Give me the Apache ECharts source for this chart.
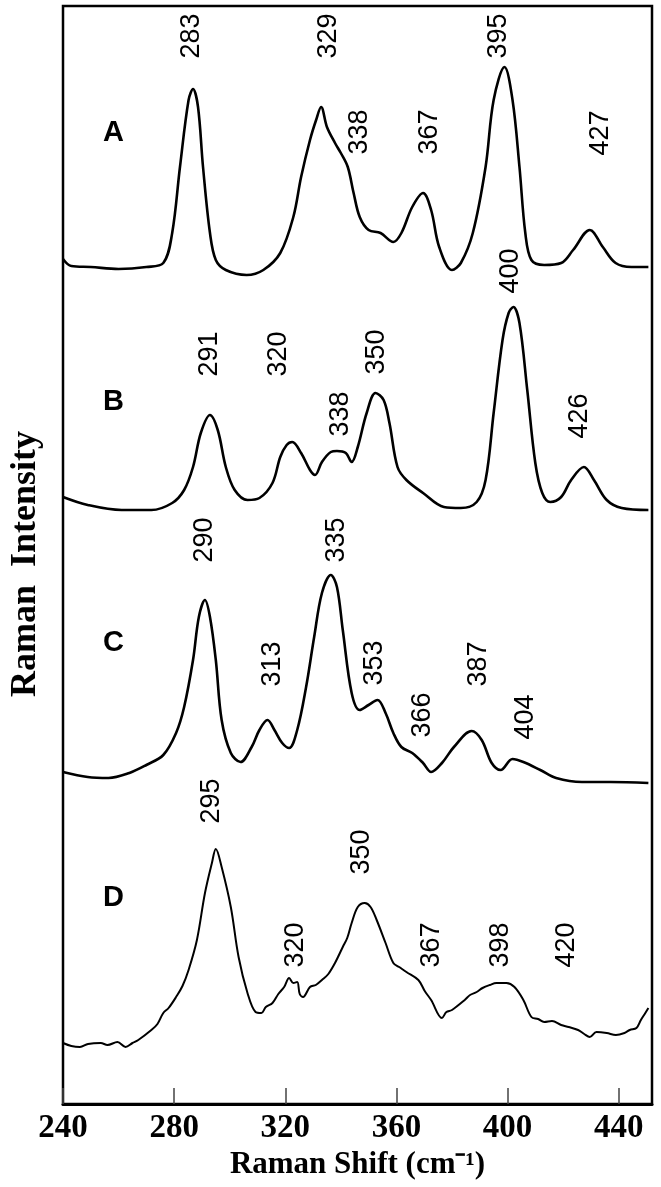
<!DOCTYPE html>
<html>
<head>
<meta charset="utf-8">
<script src="https://cdn.jsdelivr.net/npm/echarts@6/dist/echarts.min.js"></script>
<style>
    html, body {margin: 0; padding: 0; background: #fff;}
    #chart {width: 661px; height: 1187px;}
</style>
</head>
<body>
<div id="chart"></div>
<script>
// x = Raman shift (cm-1), y = stacked intensity (arbitrary, offset per spectrum)
const xTicks = [240, 280, 320, 360, 400, 440];

const spectrumA = [
    [240, 845], [243, 838], [250, 837], [260, 835], [270, 837], [276.1, 841], [279.3, 871],
    [282.1, 937], [285.2, 1004], [286.8, 1015], [288.6, 997], [290.4, 937], [292.9, 871],
    [295, 844], [298.6, 834], [306.1, 829], [312.1, 834], [318.2, 851], [322.9, 887],
    [325.7, 927], [328.9, 964], [331.1, 984], [332.9, 997], [335, 977], [337.9, 961],
    [340, 951], [342.5, 937], [344.6, 911], [346.8, 887], [350, 874], [354.3, 871],
    [358.9, 862], [361.8, 871], [365.7, 897], [369.6, 911], [372.5, 894], [375.4, 857],
    [380, 834], [383.2, 841], [387.5, 871], [392.1, 937], [395, 1004], [398.9, 1037],
    [401.8, 1004], [404.3, 937], [406.4, 871], [408.6, 844], [413.2, 839], [419.3, 841],
    [423.6, 854], [429.6, 874], [434.3, 857], [438.9, 841], [444.6, 837], [450.7, 837]
];
const spectrumB = [
    [240, 607], [248.9, 599], [261.1, 594], [271.8, 594], [279.3, 601], [283.6, 614],
    [286.8, 637], [289.6, 671], [292.9, 689], [295.7, 674], [298.6, 637], [301.8, 614],
    [306.4, 604], [310.7, 606], [315.4, 621], [318.2, 647], [320.5, 659], [322.5, 662], [325.7, 651],
    [328.9, 634], [330.7, 629], [333.2, 642], [336.4, 652], [338.6, 653], [341.8, 651],
    [343.9, 642], [346.1, 657], [349.3, 691], [352.5, 711], [355.4, 704], [357.5, 681],
    [360.4, 637], [363.6, 624], [369.6, 611], [377.1, 597], [383.2, 596], [388.9, 602],
    [392.1, 624], [395, 691], [398.2, 764], [400.4, 791], [402.1, 797], [404.3, 781],
    [407.1, 714], [410, 641], [412.5, 611], [415.4, 602], [419.3, 607], [422.9, 624],
    [427.5, 637], [431.1, 624], [435.7, 604], [441.1, 596], [450.7, 594]
];
const spectrumC = [
    [240, 332], [248.9, 327], [256.4, 326], [263.9, 331], [270, 339], [276.1, 349],
    [280.7, 371], [283.6, 397], [286.8, 444], [288.9, 487], [291.1, 504], [292.9, 487],
    [295, 444], [297.1, 384], [300.4, 351], [303.9, 342], [307.9, 357], [310.7, 374],
    [313.6, 384], [316.1, 374], [318.9, 361], [321.4, 356], [324.3, 374], [327.5, 417],
    [330.4, 467], [333.2, 511], [336.4, 529], [338.6, 517], [340.7, 474], [343.9, 411],
    [346.8, 394], [350, 399], [353.2, 404], [356.1, 391], [358.9, 371], [361.8, 357],
    [365.7, 351], [369.6, 341], [372.5, 332], [376.4, 341], [380.7, 357], [387.1, 373],
    [390.7, 364], [394.3, 341], [397.5, 334], [401.8, 345], [405.7, 342], [411.8, 334],
    [417.5, 326], [426.8, 322], [437.1, 322], [450.7, 321]
];
const spectrumD = [
    [240, 61], [243, 58], [246.1, 57], [249, 60], [253.6, 61], [256, 59], [259.6, 62],
    [262.5, 57], [265, 61], [267.1, 64], [271.8, 74], [274, 80], [276.1, 91], [278, 96],
    [280.7, 107], [283, 118], [285.2, 134], [288.2, 164], [291.1, 211], [293.6, 241],
    [295, 255], [297.1, 237], [300.4, 197], [303.2, 147], [306.4, 111], [309.3, 92],
    [311.4, 91], [313, 97], [315.4, 101], [317.5, 110], [319.6, 117], [321.4, 126],
    [322.9, 121], [324.3, 122], [325.2, 110], [326.4, 107], [328.9, 117], [331, 119],
    [333.2, 124], [335.5, 130], [337.9, 141], [340.7, 157], [342.3, 166], [343.9, 181],
    [346.1, 197], [348.6, 201], [350.7, 197], [352.9, 184], [356.1, 161], [358.9, 141],
    [361, 137], [363.6, 132], [367.9, 124], [370.2, 113], [372.5, 104], [376.4, 86],
    [378, 92], [380, 94], [384.6, 104], [386.5, 109], [388.9, 112], [391, 116], [393.6, 119],
    [396, 121], [399.6, 121], [402.5, 117], [405.7, 104], [408.6, 87], [411, 85],
    [413.2, 82], [416, 83], [419.3, 79], [422, 77], [425.4, 74], [427.6, 70], [429.6, 67],
    [432, 72], [435.7, 71], [439, 69], [442.1, 71], [444, 74], [446.4, 76], [448, 84],
    [449.6, 91], [450.7, 96]
];

// peak annotations: [text, x, y] in data units
const peaksA = [['283', 286.4, 1068], ['329', 335.7, 1068], ['338', 346.8, 972],
    ['367', 371.8, 972], ['395', 396.8, 1068], ['427', 433.6, 971]];
const peaksB = [['400', 401.1, 833], ['291', 292.9, 750], ['320', 317.5, 750],
    ['338', 340, 690], ['350', 352.9, 752], ['426', 426.1, 688]];
const peaksC = [['290', 291.1, 564], ['335', 338.6, 564], ['313', 315.4, 440],
    ['353', 352.1, 441], ['366', 369.3, 389], ['387', 389.6, 440], ['404', 406.4, 387]];
const peaksD = [['295', 293.6, 303], ['350', 347.5, 252], ['320', 323.6, 159],
    ['367', 372.5, 159], ['398', 397.5, 159], ['420', 421.4, 159]];
const panelLetters = [['A', 258.2, 971], ['B', 258.2, 702], ['C', 258.2, 461], ['D', 258.2, 206]];

const lineSeries = (name, data, width) => ({
    name: name,
    type: 'line',
    data: data,
    smooth: 0.35,
    symbol: 'none',
    lineStyle: {color: '#000', width: width},
    z: 3
});

const textSeries = (name, data, rotate, font) => ({
    name: name,
    type: 'scatter',
    symbolSize: 0,
    itemStyle: {color: '#000', opacity: 0},
    data: data.map(d => ({name: d[0], value: [d[1], d[2]]})),
    label: {
        show: true,
        position: 'inside',
        formatter: p => p.name,
        rotate: rotate,
        color: '#000',
        opacity: 1,
        textBorderWidth: 0,
        fontFamily: 'Liberation Sans',
        fontSize: font.size,
        fontWeight: font.weight,
        align: 'center',
        verticalAlign: 'middle'
    },
    silent: true,
    z: 4
});

const peakFont = {size: 27, weight: 'normal'};

const chart = echarts.init(document.getElementById('chart'), null, {renderer: 'canvas'});
chart.setOption({
    backgroundColor: '#fff',
    animation: false,
    grid: {
        left: 59, right: 9, top: 6, bottom: 83,
        show: true, borderColor: '#000', borderWidth: 2.5, backgroundColor: 'transparent'
    },
    xAxis: {
        type: 'value',
        min: 240, max: 452, interval: 40,
        name: 'Raman Shift (cm⁻¹)',
        nameLocation: 'middle',
        nameGap: 44,
        nameTextStyle: {fontFamily: 'Liberation Serif', fontSize: 31, fontWeight: 'bold', color: '#000'},
        axisLine: {show: true, lineStyle: {color: '#000', width: 3}},
        axisTick: {show: true, inside: true, length: 16, lineStyle: {color: '#444', width: 1.5}},
        axisLabel: {
            color: '#000', fontFamily: 'Liberation Serif', fontSize: 33, fontWeight: 'bold', margin: 8,
            showMaxLabel: false,
            formatter: v => xTicks.includes(v) ? String(v) : ''
        },
        splitLine: {show: false}
    },
    yAxis: {
        type: 'value',
        min: 0, max: 1098,
        name: 'Raman  Intensity',
        nameLocation: 'middle',
        nameGap: 19,
        nameRotate: 90,
        nameTextStyle: {fontFamily: 'Liberation Serif', fontSize: 36, fontWeight: 'bold', color: '#000', padding: [0, 18, 0, 0]},
        axisLine: {show: false},
        axisTick: {show: false},
        axisLabel: {show: false},
        splitLine: {show: false}
    },
    series: [
        lineSeries('A', spectrumA, 2.6),
        lineSeries('B', spectrumB, 2.6),
        lineSeries('C', spectrumC, 2.6),
        lineSeries('D', spectrumD, 2),
        textSeries('peaksA', peaksA, 90, peakFont),
        textSeries('peaksB', peaksB, 90, peakFont),
        textSeries('peaksC', peaksC, 90, peakFont),
        textSeries('peaksD', peaksD, 90, peakFont),
        textSeries('letters', panelLetters, 0, {size: 29, weight: 'bold'})
    ]
});
</script>
</body>
</html>
